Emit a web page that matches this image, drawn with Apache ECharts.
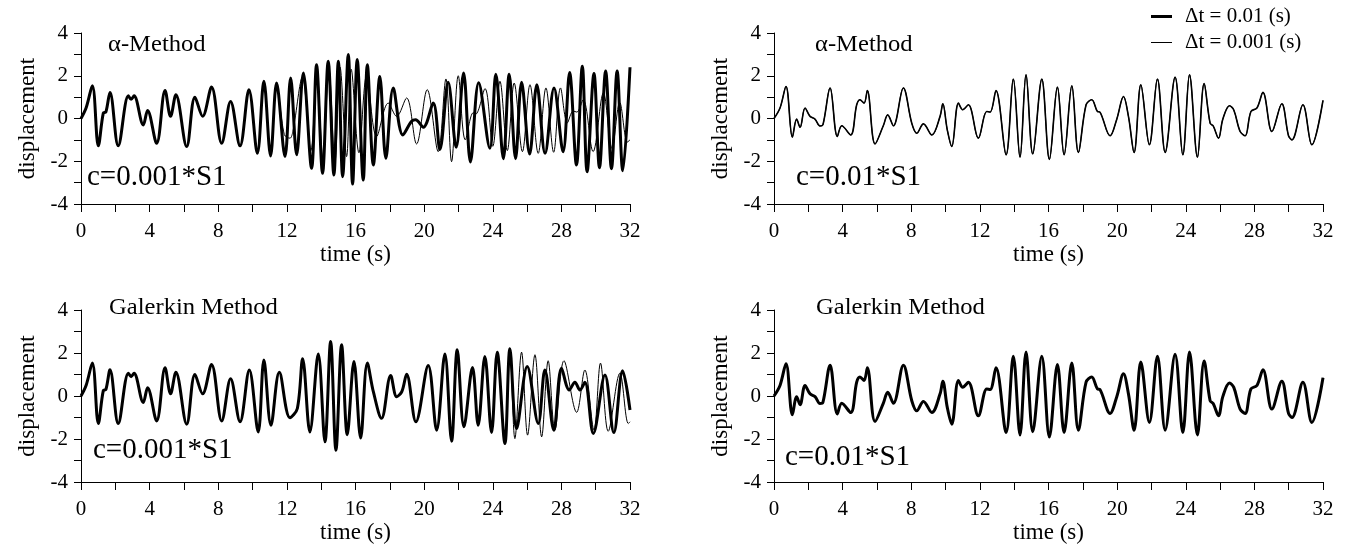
<!DOCTYPE html>
<html>
<head>
<meta charset="utf-8">
<style>
html,body{margin:0;padding:0;background:#fff;}
#chart{width:1348px;height:551px;}
</style>
<script src="https://cdn.jsdelivr.net/npm/echarts@6/dist/echarts.min.js"></script>
</head>
<body>
<div id="chart"></div>
<script>
// ---- data: [time (s), displacement] ----
const timeTicks = [0, 4, 8, 12, 16, 20, 24, 28, 32];
const dispTicks = [-4, -2, 0, 2, 4];
const seriesNames = ['Δt = 0.01 (s)', 'Δt = 0.001 (s)'];
const panelTitles = ['α-Method', 'α-Method', 'Galerkin Method', 'Galerkin Method'];
const panelNotes = ['c=0.001*S1', 'c=0.01*S1', 'c=0.001*S1', 'c=0.01*S1'];

// common start of the left-hand responses (both methods, both steps)
const earlyLeft = [[0,0],[0.3,0.5],[0.66,1.53],[1.01,-1.28],[1.3,0.25],[1.45,0.3],[1.69,1.22],[2.17,-1.28],[2.76,1.06],[2.92,0.9],[3.09,1.06],[3.63,-0.3],[3.88,0.38],[4.41,-1.16],[4.9,1.31],[5.22,0.1],[5.53,1.11],[6.16,-1.31],[6.64,1.0],[7.09,0.1],[7.61,1.47],[8.2,-1.16],[8.72,0.8]];

// alpha method, c=0.001*S1, dt=0.01
const alphaC001Dt01Tail = [[9.27,-1.28],[9.79,1.35],[10.28,-1.63],[10.66,1.74],[11.05,-1.75],[11.4,1.66],[11.89,-1.78],[12.22,1.9],[12.57,-1.7],[12.96,2.13],[13.44,-2.33],[13.73,2.52],[14.08,-2.56],[14.41,2.68],[14.74,-2.64],[15.0,2.68],[15.25,-2.72],[15.58,2.99],[15.83,-3.07],[16.1,2.76],[16.45,-2.88],[16.69,2.52],[17.04,-2.17],[17.42,1.97],[17.77,-1.86],[18.2,1.43],[18.76,-0.77],[19.26,-0.14],[19.5,-0.06],[19.95,-0.41],[20.53,0.72],[20.92,-1.45],[21.4,1.7],[21.87,-1.35],[22.3,2.13],[22.7,-2.03],[23.18,1.67],[23.83,-1.39],[24.18,2.07],[24.62,-1.88],[24.96,2.07],[25.33,-1.88],[25.68,1.7],[26.15,-1.66],[26.57,1.58],[27.05,-1.63],[27.57,1.43],[28.1,-1.55],[28.48,2.15],[28.88,-2.17],[29.22,2.45],[29.5,-2.49],[29.9,2.1],[30.22,-2.3],[30.58,2.22],[30.92,-2.35],[31.25,2.22],[31.58,-2.44],[32,2.4]];
// alpha method, c=0.001*S1, dt=0.001 (departs after ~11.4 s)
const alphaC001Dt001Tail = [[9.27,-1.28],[9.79,1.35],[10.28,-1.63],[10.66,1.74],[11.05,-1.75],[11.4,1.66],[11.85,-0.75],[12.18,-0.92],[12.35,-0.6],[12.9,1.9],[13.4,-1.5],[13.75,2.2],[14.1,-1.9],[14.45,2.3],[14.8,-2.0],[15.1,2.4],[15.48,-1.78],[15.75,2.3],[16.2,-1.6],[16.65,2.0],[17.23,-0.84],[17.91,0.72],[18.4,0.1],[18.98,0.96],[19.56,-1.19],[20.18,1.35],[20.82,-1.55],[21.27,1.85],[21.6,-2.02],[21.99,2.0],[22.4,-1.0],[22.86,0.27],[23.0,0.2],[23.55,1.4],[24.0,-1.3],[24.42,1.74],[24.85,-1.5],[25.25,1.66],[25.73,-1.55],[26.17,1.58],[26.65,-1.63],[27.1,1.43],[27.55,-1.58],[27.95,1.43],[28.35,-0.2],[28.69,0.35],[28.9,0.3],[29.27,0.88],[29.85,-1.55],[30.45,1.2],[30.95,-1.4],[31.4,0.75],[31.85,-1.1],[32,-1.0]];

// Galerkin method, c=0.001*S1, dt=0.01
const galC001Dt01Tail = [[9.27,-1.2],[9.81,1.21],[10.33,-1.67],[10.66,1.68],[11.07,-1.36],[11.56,1.1],[12.18,-1.01],[12.61,-0.58],[12.92,1.73],[13.34,-1.67],[13.83,1.95],[14.22,-2.13],[14.55,2.54],[14.86,-2.52],[15.19,2.38],[15.52,-1.8],[15.91,1.6],[16.3,-1.95],[16.69,1.53],[17.04,0.2],[17.52,-1.04],[18.05,0.95],[18.4,-0.03],[18.7,0.2],[18.98,1.01],[19.52,-1.2],[20.24,1.42],[20.73,-1.59],[21.21,1.95],[21.6,-2.1],[21.93,2.15],[22.32,-1.43],[22.82,1.32],[23.15,-1.36],[23.54,1.84],[23.93,-1.7],[24.26,2.04],[24.71,-2.21],[25.0,2.2],[25.39,-1.51],[26.01,1.37],[26.65,-1.28],[27.04,1.21],[27.56,-1.59],[28.01,1.29],[28.46,0.28],[28.79,0.64],[29.08,0.28],[29.37,0.64],[29.86,-1.74],[30.54,0.98],[31.06,-1.7],[31.57,1.17],[32,-0.65]];
// Galerkin method, c=0.001*S1, dt=0.001 (departs after ~25 s)
const galC001Dt001Tail = [[9.27,-1.2],[9.81,1.21],[10.33,-1.67],[10.66,1.68],[11.07,-1.36],[11.56,1.1],[12.18,-1.01],[12.61,-0.58],[12.92,1.73],[13.34,-1.67],[13.83,1.95],[14.22,-2.13],[14.55,2.54],[14.86,-2.52],[15.19,2.38],[15.52,-1.8],[15.91,1.6],[16.3,-1.95],[16.69,1.53],[17.04,0.2],[17.52,-1.04],[18.05,0.95],[18.4,-0.03],[18.7,0.2],[18.98,1.01],[19.52,-1.2],[20.24,1.42],[20.73,-1.59],[21.21,1.95],[21.6,-2.1],[21.93,2.15],[22.32,-1.43],[22.82,1.32],[23.15,-1.36],[23.54,1.84],[23.93,-1.7],[24.26,2.04],[24.71,-2.21],[25.0,2.2],[25.29,-1.98],[25.68,2.04],[26.03,-1.82],[26.46,1.92],[26.85,-1.9],[27.23,1.64],[27.62,-1.59],[28.15,1.64],[28.89,-0.76],[29.37,1.21],[29.9,-1.59],[30.28,1.53],[30.73,-1.64],[31.41,1.06],[31.9,-1.28],[32,-1.2]];

// c=0.01*S1 (both methods, both steps coincide)
const c01Response = [[0,0],[0.35,0.49],[0.7,1.5],[1.07,-0.87],[1.32,-0.03],[1.52,-0.41],[1.81,0.49],[2.1,0.1],[2.39,-0.03],[2.68,-0.35],[2.85,-0.3],[3.27,1.43],[3.69,-0.84],[3.95,-0.34],[4.47,-0.77],[4.82,0.64],[5.01,0.88],[5.25,0.72],[5.44,1.31],[5.89,-1.19],[6.37,-0.34],[6.63,0.17],[6.96,-0.34],[7.54,1.43],[8.03,-0.22],[8.32,-0.69],[8.71,-0.25],[9.2,-0.77],[9.68,0.1],[9.84,0.69],[10.1,-0.53],[10.36,-1.31],[10.75,0.72],[11.0,0.41],[11.33,0.64],[11.91,-0.92],[12.4,0.33],[12.6,0.3],[12.94,1.31],[13.53,-1.7],[13.95,1.85],[14.34,-1.81],[14.69,2.05],[15.08,-1.66],[15.61,1.85],[16.05,-1.91],[16.52,1.47],[16.91,-1.7],[17.36,1.53],[17.74,-1.59],[18.19,0.64],[18.52,0.88],[18.85,0.33],[19.0,0.3],[19.59,-0.81],[19.98,-0.03],[20.37,1.03],[20.66,0.1],[20.99,-1.59],[21.38,1.58],[21.88,-1.23],[22.35,1.85],[22.8,-1.59],[23.38,1.94],[23.83,-1.7],[24.22,2.05],[24.68,-1.81],[25.07,1.63],[25.42,-0.22],[25.6,-0.35],[25.91,-0.92],[26.16,-0.03],[26.55,0.6],[26.8,0.4],[27.17,-0.61],[27.46,-0.81],[27.8,0.33],[28.15,0.49],[28.5,1.22],[29.02,-0.61],[29.6,0.69],[29.99,-0.81],[30.19,-1.0],[30.83,0.64],[31.35,-1.23],[32,0.85]];

const alphaC001Dt01 = earlyLeft.concat(alphaC001Dt01Tail);
const alphaC001Dt001 = earlyLeft.concat(alphaC001Dt001Tail);
const galC001Dt01 = earlyLeft.concat(galC001Dt01Tail);
const galC001Dt001 = earlyLeft.concat(galC001Dt001Tail);

// ---- layout ----
const FONT = 'Liberation Serif';
const grids = [
  {left: 81, top: 33, width: 549, height: 171},
  {left: 774, top: 33, width: 549, height: 171},
  {left: 81, top: 310, width: 549, height: 172},
  {left: 774, top: 310, width: 549, height: 172}
];

function xAxis(i) {
  return {
    type: 'value', gridIndex: i, min: 0, max: 32, interval: 2,
    name: 'time (s)', nameLocation: 'middle', nameGap: 39,
    nameTextStyle: {fontFamily: FONT, fontSize: 23, color: '#000'},
    axisLine: {show: true, onZero: false, lineStyle: {color: '#000', width: 1}},
    axisTick: {show: true, inside: false, length: 8, lineStyle: {color: '#000', width: 1}},
    axisLabel: {show: true, margin: 17, fontFamily: FONT, fontSize: 21, color: '#000',
      formatter: v => (timeTicks.indexOf(v) >= 0 ? String(v) : '')},
    splitLine: {show: false}
  };
}
function yAxis(i) {
  return {
    type: 'value', gridIndex: i, min: -4, max: 4, interval: 1,
    name: 'displacement', nameLocation: 'middle', nameGap: 42, nameRotate: 90,
    nameTextStyle: {fontFamily: FONT, fontSize: 23, color: '#000'},
    axisLine: {show: true, onZero: false, lineStyle: {color: '#000', width: 1}},
    axisTick: {show: true, inside: false, length: 7, lineStyle: {color: '#000', width: 1}},
    axisLabel: {show: true, margin: 13, fontFamily: FONT, fontSize: 21, color: '#000',
      formatter: v => (dispTicks.indexOf(v) >= 0 ? String(v) : '')},
    splitLine: {show: false}
  };
}

const panelData = [
  [alphaC001Dt01, alphaC001Dt001],
  [c01Response, c01Response],
  [galC001Dt01, galC001Dt001],
  [c01Response, c01Response]
];
const thickWidths = [3, 1.6, 3, 3];

const series = [];
panelData.forEach((pair, i) => {
  series.push({
    name: seriesNames[0], type: 'line', xAxisIndex: i, yAxisIndex: i,
    data: pair[0], symbol: 'none', smooth: 0.35, color: '#000',
    lineStyle: {color: '#000', width: thickWidths[i]}, z: 2
  });
  series.push({
    name: seriesNames[1], type: 'line', xAxisIndex: i, yAxisIndex: i,
    data: pair[1], symbol: 'none', smooth: 0.35, color: '#000',
    lineStyle: {color: '#000', width: 1}, z: 3
  });
});

const titlePos = [[108, 45], [815, 45], [109, 308], [816, 308]];
const notePos = [[87, 177], [796, 177], [93, 450], [785, 457]];
const graphics = [];
panelTitles.forEach((t, i) => {
  graphics.push({type: 'text', x: titlePos[i][0], y: titlePos[i][1], scaleX: 1.07,
    style: {text: t, fontFamily: FONT, fontSize: 23, fill: '#000', verticalAlign: 'middle', align: 'left'}});
});
panelNotes.forEach((t, i) => {
  graphics.push({type: 'text', x: notePos[i][0], y: notePos[i][1],
    style: {text: t, fontFamily: FONT, fontSize: 29, fill: '#000', verticalAlign: 'middle', align: 'left'}});
});

const legendText = {fontFamily: FONT, fontSize: 21, color: '#000', padding: [0, 0, 0, 8]};
const option = {
  animation: false,
  backgroundColor: '#fff',
  grid: grids.map(g => Object.assign({containLabel: false, outerBoundsMode: 'none'}, g)),
  xAxis: [0, 1, 2, 3].map(xAxis),
  yAxis: [0, 1, 2, 3].map(yAxis),
  legend: [
    {data: [{name: seriesNames[0], icon: 'rect'}], left: 1146, top: 1, itemWidth: 21, itemHeight: 3,
      selectedMode: false, textStyle: legendText,
      itemStyle: {color: '#000', borderWidth: 0}, lineStyle: {width: 3, color: '#000'}},
    {data: [{name: seriesNames[1], icon: 'rect'}], left: 1146, top: 27, itemWidth: 21, itemHeight: 1,
      selectedMode: false, textStyle: legendText,
      itemStyle: {color: '#000', borderWidth: 0}, lineStyle: {width: 1, color: '#000'}}
  ],
  graphic: graphics,
  series: series
};

const chart = echarts.init(document.getElementById('chart'), null, {renderer: 'canvas'});
chart.setOption(option);
</script>
</body>
</html>
